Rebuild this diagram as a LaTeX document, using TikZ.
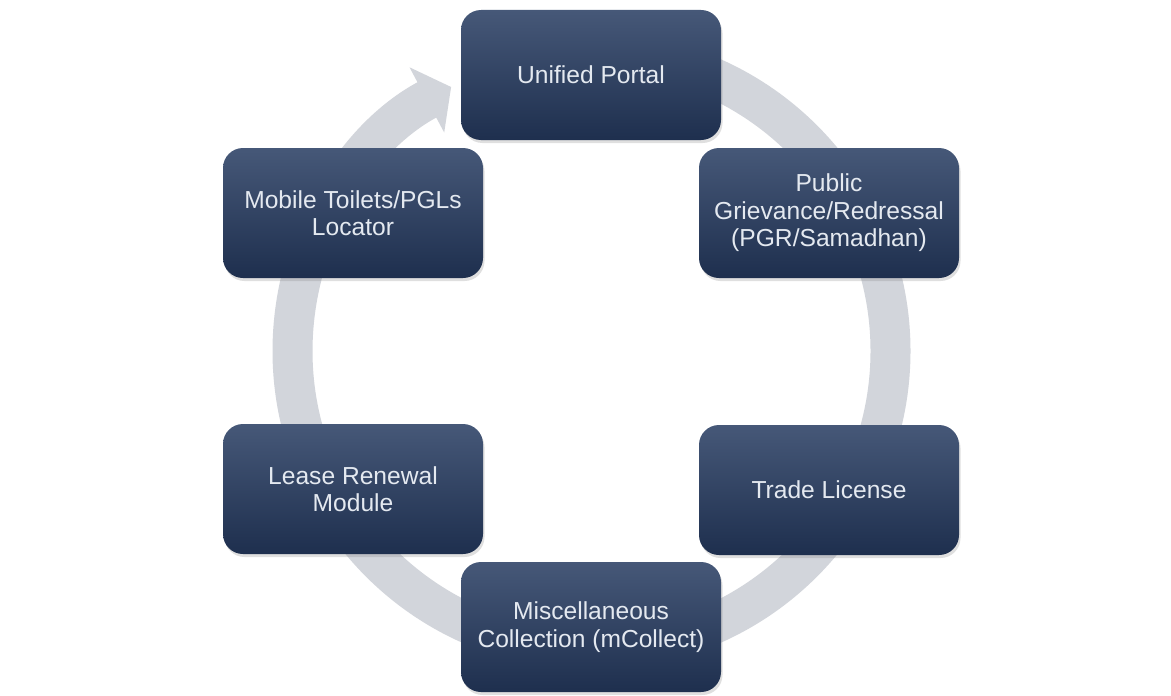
\documentclass[tikz,border=0pt]{standalone}
\usepackage{fontspec}
\setmainfont{Liberation Sans}
\usetikzlibrary{shapes, arrows, arrows.meta, shadows}
\definecolor{boxtop}{RGB}{70,88,120}
\definecolor{boxbottom}{RGB}{30,47,78}
\definecolor{ringgray}{RGB}{210,213,219}
\definecolor{boxtext}{RGB}{228,233,240}
\tikzstyle{module} = [rectangle, rounded corners=0.4cm, minimum width=5.2cm, minimum height=2.6cm,
  top color=boxtop, bottom color=boxbottom, text=boxtext, align=center,
  font=\fontsize{14}{15.6}\selectfont,
  drop shadow={opacity=0.25, shadow xshift=0.03cm, shadow yshift=-0.06cm}]
\tikzstyle{ring} = [line width=0.8cm, ringgray, -{Triangle[width=1.45cm, length=0.55cm]}]

\begin{document}
\begin{tikzpicture}

                    \useasboundingbox[fill=white] (0,0) rectangle (23.42,13.9);

                    % Cycle ring
                    \draw[ring] (11.83,6.88) ++(90:5.98) arc[start angle=90, end angle=-242, radius=5.98];

                    % Modules
                    \node[module] (portal) at (11.82,12.40) {Unified Portal};
                    \node[module] (grievance) at (16.58,9.64) {Public\\Grievance/Redressal\\(PGR/Samadhan)};
                    \node[module] (trade) at (16.58,4.10) {Trade License};
                    \node[module] (mcollect) at (11.82,1.36) {Miscellaneous\\Collection (mCollect)};
                    \node[module] (lease) at (7.06,4.12) {Lease Renewal\\Module};
                    \node[module] (toilets) at (7.06,9.64) {Mobile Toilets/PGLs\\Locator};

                \end{tikzpicture}
\end{document}
